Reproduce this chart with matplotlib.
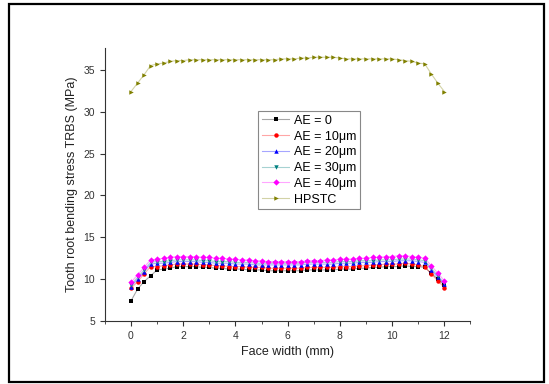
import matplotlib
matplotlib.use("Agg")
import matplotlib.pyplot as plt
from matplotlib.colors import to_rgba
from matplotlib.patches import Rectangle
from matplotlib.ticker import MultipleLocator

plt.rcParams['font.family'] = ['Liberation Sans', 'DejaVu Sans']

# face width positions (mm), step 0.25
face_width = [0.0, 0.25, 0.5, 0.75, 1.0, 1.25, 1.5, 1.75, 2.0, 2.25, 2.5, 2.75,
              3.0, 3.25, 3.5, 3.75, 4.0, 4.25, 4.5, 4.75, 5.0, 5.25, 5.5, 5.75,
              6.0, 6.25, 6.5, 6.75, 7.0, 7.25, 7.5, 7.75, 8.0, 8.25, 8.5, 8.75,
              9.0, 9.25, 9.5, 9.75, 10.0, 10.25, 10.5, 10.75, 11.0, 11.25, 11.5, 11.75, 12.0]

ae0 = [7.4, 8.8, 9.7, 10.4, 11.1, 11.2, 11.3, 11.5, 11.5, 11.5, 11.5, 11.4,
       11.4, 11.3, 11.3, 11.2, 11.2, 11.2, 11.1, 11.1, 11.1, 11.0, 11.0, 11.0,
       11.0, 11.0, 11.0, 11.1, 11.1, 11.1, 11.1, 11.1, 11.2, 11.2, 11.2, 11.3,
       11.3, 11.4, 11.4, 11.5, 11.5, 11.5, 11.6, 11.5, 11.5, 11.4, 10.7, 10.0, 9.3]
ae10 = [8.9, 9.7, 10.6, 11.5, 11.5, 11.6, 11.7, 11.8, 11.8, 11.8, 11.8, 11.7,
        11.7, 11.6, 11.6, 11.5, 11.5, 11.5, 11.4, 11.4, 11.4, 11.3, 11.3, 11.3,
        11.3, 11.3, 11.3, 11.4, 11.4, 11.4, 11.4, 11.4, 11.5, 11.5, 11.5, 11.6,
        11.6, 11.7, 11.7, 11.8, 11.8, 11.8, 11.9, 11.8, 11.7, 11.5, 10.6, 9.8, 9.0]
ae20 = [9.1, 10.0, 10.9, 11.8, 11.9, 11.9, 12.0, 12.1, 12.1, 12.1, 12.1, 12.0,
        12.0, 11.9, 11.9, 11.9, 11.8, 11.8, 11.8, 11.7, 11.7, 11.7, 11.7, 11.7,
        11.7, 11.7, 11.7, 11.8, 11.8, 11.8, 11.8, 11.8, 11.9, 11.9, 11.9, 12.0,
        12.0, 12.0, 12.1, 12.1, 12.1, 12.2, 12.2, 12.2, 12.1, 12.0, 11.1, 10.2, 9.4]
ae30 = [9.3, 10.2, 11.1, 12.0, 12.1, 12.1, 12.2, 12.3, 12.3, 12.3, 12.3, 12.2,
        12.2, 12.1, 12.1, 12.1, 12.0, 12.0, 12.0, 11.9, 11.9, 11.9, 11.9, 11.9,
        11.9, 11.9, 11.9, 12.0, 12.0, 12.0, 12.0, 12.0, 12.1, 12.1, 12.1, 12.2,
        12.2, 12.2, 12.3, 12.3, 12.3, 12.4, 12.4, 12.4, 12.3, 12.2, 11.3, 10.4, 9.5]
ae40 = [9.6, 10.5, 11.4, 12.3, 12.4, 12.5, 12.6, 12.7, 12.7, 12.7, 12.7, 12.6,
        12.6, 12.5, 12.5, 12.4, 12.4, 12.3, 12.3, 12.2, 12.2, 12.1, 12.1, 12.1,
        12.1, 12.1, 12.1, 12.2, 12.2, 12.2, 12.3, 12.3, 12.4, 12.4, 12.4, 12.5,
        12.5, 12.6, 12.6, 12.7, 12.7, 12.8, 12.8, 12.7, 12.6, 12.5, 11.6, 10.7, 9.8]
hpstc = [32.4, 33.4, 34.4, 35.5, 35.7, 35.8, 36.0, 36.1, 36.1, 36.2, 36.2, 36.2,
         36.2, 36.2, 36.2, 36.2, 36.2, 36.2, 36.2, 36.2, 36.2, 36.2, 36.2, 36.3,
         36.3, 36.3, 36.4, 36.4, 36.5, 36.5, 36.5, 36.5, 36.4, 36.3, 36.3, 36.3,
         36.3, 36.3, 36.3, 36.3, 36.3, 36.2, 36.1, 36.0, 35.8, 35.7, 34.5, 33.4, 32.4]

series = [ae0, ae10, ae20, ae30, ae40, hpstc]
labels = ["AE = 0", "AE = 10\u03bcm", "AE = 20\u03bcm", "AE = 30\u03bcm", "AE = 40\u03bcm", "HPSTC"]
colors = ["black", "red", "blue", "#008080", "magenta", "#808000"]
markers = ["s", "o", "^", "v", "D", ">"]

fig = plt.figure(figsize=(5.49, 3.84), dpi=100)
ax = fig.add_axes([0.191, 0.164, 0.666, 0.711])

for ys, lab, c, m in zip(series, labels, colors, markers):
    # pale connecting line, solid markers
    ax.plot(face_width, ys, color=to_rgba(c, 0.35), lw=0.8, marker=m, markersize=3.2,
            markerfacecolor=c, markeredgecolor=c, markeredgewidth=0, label=lab)

ax.set_xlim(-1, 13)
ax.set_ylim(5, 37.6)
ax.xaxis.set_major_locator(MultipleLocator(2))
ax.xaxis.set_minor_locator(MultipleLocator(1))
ax.yaxis.set_major_locator(MultipleLocator(5))
ax.spines['top'].set_visible(False)
ax.spines['right'].set_visible(False)
for sp in ('left', 'bottom'):
    ax.spines[sp].set_color('#333333')
ax.tick_params(which='major', direction='out', length=3.5, labelsize=7.5,
               color='#333333', labelcolor='#333333')
ax.tick_params(which='minor', direction='out', length=2, color='#333333')
ax.set_xlabel("Face width (mm)", fontsize=9, color='#222222')
ax.set_ylabel("Tooth root bending stress TRBS (MPa)", fontsize=9, color='#222222')

leg = ax.legend(loc='upper left', bbox_to_anchor=(0.419, 0.769), borderaxespad=0,
                fontsize=9, fancybox=False, edgecolor='#888888', handlelength=2.2,
                labelspacing=0.3, borderpad=0.3, handletextpad=0.4, framealpha=1)
leg.get_frame().set_linewidth(0.8)

fig.patches.append(Rectangle((9 / 549, 2 / 384), 535 / 549, 378 / 384,
                             transform=fig.transFigure, fill=False,
                             edgecolor='black', linewidth=1.6))

fig.savefig("out.png", dpi=100)
